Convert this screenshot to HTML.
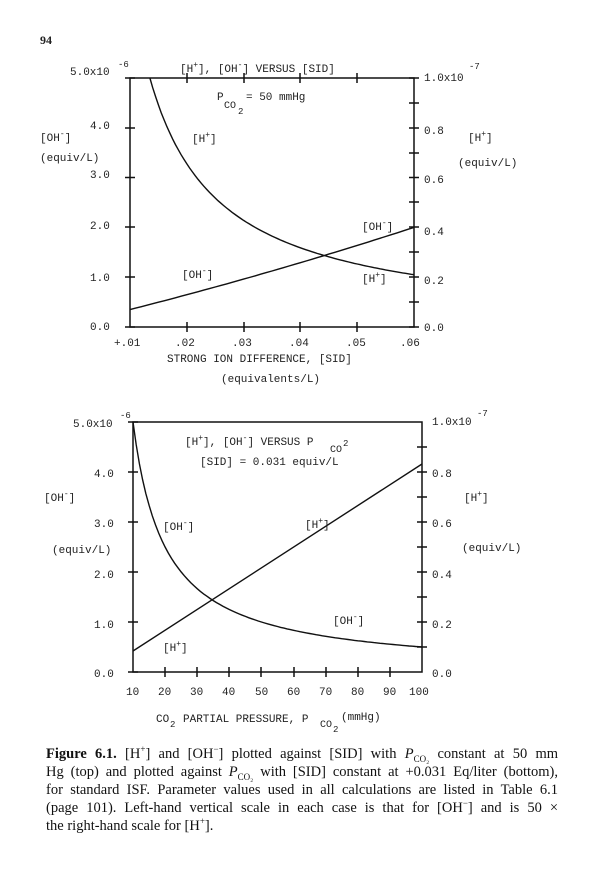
<!DOCTYPE html>
<html><head><meta charset="utf-8"><style>
body{margin:0;background:#fff;width:600px;height:891px;overflow:hidden}
svg text{font-family:"Liberation Mono",monospace;font-size:11px;fill:#222}
.cap{position:absolute;left:46px;top:745px;width:512px;font-family:"Liberation Serif",serif;font-size:14.5px;line-height:18px;color:#111}
.cap div{text-align:justify;text-align-last:justify;white-space:nowrap}
.cap div.l{text-align-last:left}
sup,sub{line-height:0}
</style></head><body>
<svg width="600" height="891" style="position:absolute;left:0;top:0">
<text x="40" y="44" style="font-family:'Liberation Serif',serif;font-weight:bold;font-size:12px">94</text>
<g stroke="#111" stroke-width="1.5" fill="none">
<rect x="130" y="78" width="284" height="249"/>
<path d="M125,78h10M125,128h10M125,177.5h10M125,227h10M125,277h10M125,327h10"/>
<path d="M409,78h10M409,103h10M409,128h10M409,153h10M409,177.5h10M409,202h10M409,227h10M409,252h10M409,277h10M409,302h10M409,327h10"/>
<path d="M187,73v10M244,73v10M300,73v10M357,73v10M187,322v10M244,322v10M300,322v10M357,322v10"/>
<rect x="133" y="422" width="289" height="250"/>
<path d="M128,422h10M128,472h10M128,522h10M128,572h10M128,622h10M128,672h10"/>
<path d="M417,447h10M417,472h10M417,497h10M417,522h10M417,547h10M417,572h10M417,597h10M417,622h10M417,647h10"/>
<path d="M165,667v10M197,667v10M229,667v10M261,667v10M294,667v10M326,667v10M358,667v10M390,667v10"/>
</g>
<g stroke="#111" stroke-width="1.4" fill="none" id="curves"></g>
<text x="70" y="75">5.0x10</text><text x="118" y="67" style="font-size:9px">-6</text>
<text x="180" y="72">[H<tspan dy="-5" font-size="8">+</tspan><tspan dy="5">], [OH</tspan><tspan dy="-5" font-size="8">-</tspan><tspan dy="5">] VERSUS [SID]</tspan></text>
<text x="424" y="81">1.0x10</text><text x="469" y="69" style="font-size:9px">-7</text>
<text x="217" y="100">P</text><text x="224" y="108" style="font-size:10px">CO</text><text x="238" y="114" style="font-size:9px">2</text><text x="246" y="100">= 50 mmHg</text>
<text x="90" y="129">4.0</text><text x="40" y="141">[OH<tspan dy="-5" font-size="8">-</tspan><tspan dy="5">]</tspan></text>
<text x="40" y="161">(equiv/L)</text><text x="90" y="178">3.0</text>
<text x="90" y="229">2.0</text><text x="90" y="281">1.0</text><text x="90" y="330">0.0</text>
<text x="192" y="142">[H<tspan dy="-5" font-size="8">+</tspan><tspan dy="5">]</tspan></text>
<text x="424" y="134">0.8</text><text x="424" y="183">0.6</text><text x="424" y="235">0.4</text><text x="424" y="284">0.2</text><text x="424" y="331">0.0</text>
<text x="468" y="141">[H<tspan dy="-5" font-size="8">+</tspan><tspan dy="5">]</tspan></text>
<text x="458" y="166">(equiv/L)</text>
<text x="362" y="230">[OH<tspan dy="-5" font-size="8">-</tspan><tspan dy="5">]</tspan></text>
<text x="182" y="278">[OH<tspan dy="-5" font-size="8">-</tspan><tspan dy="5">]</tspan></text>
<text x="362" y="282">[H<tspan dy="-5" font-size="8">+</tspan><tspan dy="5">]</tspan></text>
<text x="114" y="346">+.01</text><text x="175" y="346">.02</text><text x="232" y="346">.03</text><text x="289" y="346">.04</text><text x="346" y="346">.05</text><text x="400" y="346">.06</text>
<text x="167" y="362">STRONG ION DIFFERENCE, [SID]</text>
<text x="221" y="382">(equivalents/L)</text>
<text x="73" y="427">5.0x10</text><text x="120" y="418" style="font-size:9px">-6</text>
<text x="432" y="425">1.0x10</text><text x="477" y="416" style="font-size:9px">-7</text>
<text x="185" y="445">[H<tspan dy="-5" font-size="8">+</tspan><tspan dy="5">], [OH</tspan><tspan dy="-5" font-size="8">-</tspan><tspan dy="5">] VERSUS P</tspan></text>
<text x="330" y="452" style="font-size:10px">CO</text><text x="343" y="446" style="font-size:9px">2</text>
<text x="200" y="465">[SID] = 0.031 equiv/L</text>
<text x="94" y="477">4.0</text><text x="432" y="477">0.8</text>
<text x="44" y="501">[OH<tspan dy="-5" font-size="8">-</tspan><tspan dy="5">]</tspan></text>
<text x="464" y="501">[H<tspan dy="-5" font-size="8">+</tspan><tspan dy="5">]</tspan></text>
<text x="163" y="530">[OH<tspan dy="-5" font-size="8">-</tspan><tspan dy="5">]</tspan></text>
<text x="305" y="528">[H<tspan dy="-5" font-size="8">+</tspan><tspan dy="5">]</tspan></text>
<text x="94" y="527">3.0</text><text x="432" y="527">0.6</text>
<text x="52" y="553">(equiv/L)</text><text x="462" y="551">(equiv/L)</text>
<text x="94" y="578">2.0</text><text x="432" y="578">0.4</text>
<text x="94" y="628">1.0</text><text x="432" y="628">0.2</text>
<text x="333" y="624">[OH<tspan dy="-5" font-size="8">-</tspan><tspan dy="5">]</tspan></text>
<text x="163" y="651">[H<tspan dy="-5" font-size="8">+</tspan><tspan dy="5">]</tspan></text>
<text x="94" y="677">0.0</text><text x="432" y="677">0.0</text>
<text x="126" y="695">10</text><text x="158" y="695">20</text><text x="190" y="695">30</text><text x="222" y="695">40</text><text x="255" y="695">50</text><text x="287" y="695">60</text><text x="319" y="695">70</text><text x="351" y="695">80</text><text x="383" y="695">90</text><text x="409" y="695">100</text>
<text x="156" y="722">CO</text><text x="170" y="727" style="font-size:9px">2</text>
<text x="183" y="722">PARTIAL PRESSURE, P</text><text x="320" y="727" style="font-size:10px">CO</text><text x="333" y="732" style="font-size:9px">2</text><text x="341" y="720">(mmHg)</text>
</svg>
<div class="cap">
<div><b>Figure 6.1.</b> [H<sup style="font-size:9px">+</sup>] and [OH<sup style="font-size:9px">−</sup>] plotted against [SID] with <i>P</i><sub style="font-size:9px">CO₂</sub> constant at 50 mm</div>
<div>Hg (top) and plotted against <i>P</i><sub style="font-size:9px">CO₂</sub> with [SID] constant at +0.031 Eq/liter (bottom),</div>
<div>for standard ISF. Parameter values used in all calculations are listed in Table 6.1</div>
<div>(page 101). Left-hand vertical scale in each case is that for [OH<sup style="font-size:9px">−</sup>] and is 50 ×</div>
<div class="l">the right-hand scale for [H<sup style="font-size:9px">+</sup>].</div>
</div>
<script>
var g=document.getElementById('curves'),ns='http://www.w3.org/2000/svg';
function add(d){var p=document.createElementNS(ns,'path');p.setAttribute('d',d);g.appendChild(p);}
var d='';
for(var s=0.0135;s<=0.06001;s+=0.0005){var v=0.0618/(s-0.00114);var x=130+(s-0.01)/0.05*284;var y=327-v*49.8;d+=(d?'L':'M')+x.toFixed(1)+','+y.toFixed(1);}
add(d);
d='';for(var s=0.01;s<=0.06001;s+=0.001){var t=(s-0.01)/0.05;var v=0.35+1.45*t+0.2*t*t;d+=(d?'L':'M')+(130+t*284).toFixed(1)+','+(327-v*49.8).toFixed(1);}
add(d);
d='';for(var P=10;P<=100.01;P+=1){var v=50/P;d+=(d?'L':'M')+(133+(P-10)*3.211).toFixed(1)+','+(672-v*50).toFixed(1);}
add(d);
add('M133,651L422,464');
</script>
</body></html>
